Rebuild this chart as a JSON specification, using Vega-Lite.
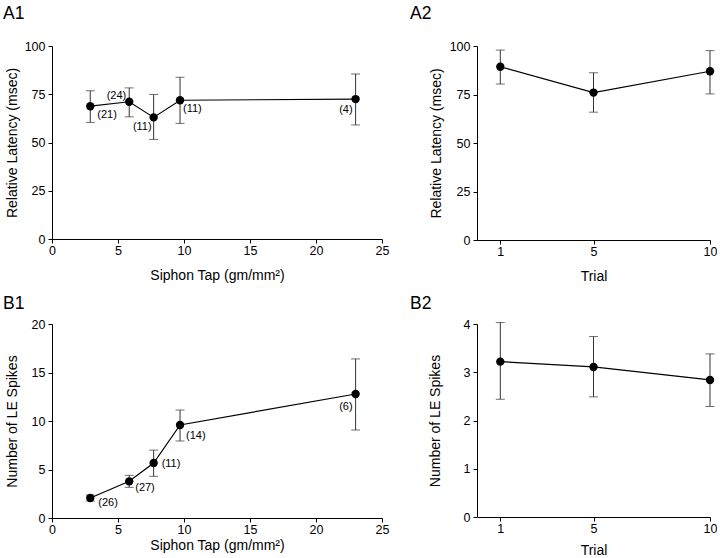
{
  "$schema": "https://vega.github.io/schema/vega-lite/v6.json",
  "padding": {"left": 3, "top": 4, "right": 0, "bottom": 0},
  "background": "white",
  "config": {
    "font": "Liberation Sans",
    "view": {"stroke": null},
    "axis": {
      "grid": false,
      "domainColor": "#000",
      "tickColor": "#000",
      "labelColor": "#000",
      "titleColor": "#000",
      "tickSize": 4,
      "labelFontSize": 12.5,
      "titleFontSize": 14,
      "titleFontWeight": "normal",
      "labelFont": "Liberation Sans",
      "titleFont": "Liberation Sans",
      "labelFlush": false,
      "labelOverlap": false
    },
    "axisX": {"labelPadding": 1},
    "axisY": {"labelPadding": 3},
    "title": {"anchor": "start", "frame": "group", "fontSize": 17.5, "fontWeight": "normal", "color": "#000", "font": "Liberation Sans", "baseline": "alphabetic"}
  },
  "datasets": {
    "a1": [
      {"tap": 2.9, "mean": 68.8, "lo": 60.4, "hi": 76.8, "label": "(21)"},
      {"tap": 5.85, "mean": 71.1, "lo": 63.3, "hi": 78.3, "label": "(24)"},
      {"tap": 7.7, "mean": 63.0, "lo": 51.6, "hi": 74.9, "label": "(11)"},
      {"tap": 9.7, "mean": 71.9, "lo": 59.9, "hi": 83.8, "label": "(11)"},
      {"tap": 23.0, "mean": 72.5, "lo": 59.1, "hi": 85.5, "label": "(4)"}
    ],
    "a2": [
      {"trial": 1, "mean": 89.3, "lo": 80.4, "hi": 97.9},
      {"trial": 5, "mean": 76.0, "lo": 65.9, "hi": 86.2},
      {"trial": 10, "mean": 87.0, "lo": 75.3, "hi": 97.6}
    ],
    "b1": [
      {"tap": 2.9, "mean": 2.06, "lo": 1.75, "hi": 2.37, "label": "(26)"},
      {"tap": 5.85, "mean": 3.78, "lo": 3.16, "hi": 4.4, "label": "(27)"},
      {"tap": 7.7, "mean": 5.67, "lo": 4.3, "hi": 7.0, "label": "(11)"},
      {"tap": 9.7, "mean": 9.59, "lo": 7.94, "hi": 11.13, "label": "(14)"},
      {"tap": 23.0, "mean": 12.78, "lo": 9.07, "hi": 16.4, "label": "(6)"}
    ],
    "b2": [
      {"trial": 1, "mean": 3.22, "lo": 2.44, "hi": 4.03},
      {"trial": 5, "mean": 3.11, "lo": 2.49, "hi": 3.74},
      {"trial": 10, "mean": 2.84, "lo": 2.29, "hi": 3.38}
    ]
  },
  "columns": 2,
  "spacing": {"row": 84, "column": 95},
  "bounds": "flush",
  "concat": [
    {
      "width": 330,
      "height": 193,
      "title": {"text": "A1", "dx": -49, "offset": 18},
      "data": {"name": "a1"},
      "encoding": {
        "x": {"field": "tap", "type": "quantitative", "scale": {"domain": [0, 25], "nice": false}, "axis": {"values": [0, 5, 10, 15, 20, 25], "title": "Siphon Tap (gm/mm²)", "titleY": 29}}
      },
      "layer": [
        {"mark": {"type": "rule", "color": "#333", "strokeWidth": 1}, "encoding": {"y": {"field": "lo", "type": "quantitative", "scale": {"domain": [0, 100], "nice": false}, "axis": {"values": [0, 25, 50, 75, 100], "title": "Relative Latency (msec)", "titleX": -33}}, "y2": {"field": "hi"}}},
        {"mark": {"type": "tick", "orient": "horizontal", "size": 9, "thickness": 1, "color": "#333"}, "encoding": {"y": {"field": "lo", "type": "quantitative"}}},
        {"mark": {"type": "tick", "orient": "horizontal", "size": 9, "thickness": 1, "color": "#333"}, "encoding": {"y": {"field": "hi", "type": "quantitative"}}},
        {"mark": {"type": "line", "color": "#000", "strokeWidth": 1.2}, "encoding": {"y": {"field": "mean", "type": "quantitative"}}},
        {"mark": {"type": "point", "filled": true, "size": 70, "color": "#000", "opacity": 1}, "encoding": {"y": {"field": "mean", "type": "quantitative"}}},
        {"transform": [{"filter": "datum.tap == 2.9"}], "mark": {"type": "text", "align": "left", "baseline": "middle", "dx": 7, "dy": 9, "fontSize": 11, "color": "#000"}, "encoding": {"y": {"field": "mean", "type": "quantitative"}, "text": {"field": "label"}}},
        {"transform": [{"filter": "datum.tap == 5.85"}], "mark": {"type": "text", "align": "right", "baseline": "middle", "dx": -3, "dy": -6, "fontSize": 11, "color": "#000"}, "encoding": {"y": {"field": "mean", "type": "quantitative"}, "text": {"field": "label"}}},
        {"transform": [{"filter": "datum.tap == 7.7"}], "mark": {"type": "text", "align": "right", "baseline": "middle", "dx": -2, "dy": 10, "fontSize": 11, "color": "#000"}, "encoding": {"y": {"field": "mean", "type": "quantitative"}, "text": {"field": "label"}}},
        {"transform": [{"filter": "datum.tap == 9.7"}], "mark": {"type": "text", "align": "left", "baseline": "middle", "dx": 3, "dy": 9, "fontSize": 11, "color": "#000"}, "encoding": {"y": {"field": "mean", "type": "quantitative"}, "text": {"field": "label"}}},
        {"transform": [{"filter": "datum.tap == 23"}], "mark": {"type": "text", "align": "right", "baseline": "middle", "dx": -3, "dy": 11, "fontSize": 11, "color": "#000"}, "encoding": {"y": {"field": "mean", "type": "quantitative"}, "text": {"field": "label"}}}
      ]
    },
    {
      "width": 233,
      "height": 194,
      "title": {"text": "A2", "dx": -67, "offset": 18},
      "data": {"name": "a2"},
      "encoding": {
        "x": {"field": "trial", "type": "quantitative", "scale": {"domain": [0, 10], "nice": false}, "axis": {"values": [1, 5, 10], "title": "Trial", "titleY": 29}}
      },
      "layer": [
        {"mark": {"type": "rule", "color": "#333", "strokeWidth": 1}, "encoding": {"y": {"field": "lo", "type": "quantitative", "scale": {"domain": [0, 100], "nice": false}, "axis": {"values": [0, 25, 50, 75, 100], "title": "Relative Latency (msec)", "titleX": -34}}, "y2": {"field": "hi"}}},
        {"mark": {"type": "tick", "orient": "horizontal", "size": 9, "thickness": 1, "color": "#333"}, "encoding": {"y": {"field": "lo", "type": "quantitative"}}},
        {"mark": {"type": "tick", "orient": "horizontal", "size": 9, "thickness": 1, "color": "#333"}, "encoding": {"y": {"field": "hi", "type": "quantitative"}}},
        {"mark": {"type": "line", "color": "#000", "strokeWidth": 1.2}, "encoding": {"y": {"field": "mean", "type": "quantitative"}}},
        {"mark": {"type": "point", "filled": true, "size": 70, "color": "#000", "opacity": 1}, "encoding": {"y": {"field": "mean", "type": "quantitative"}}}
      ]
    },
    {
      "width": 330,
      "height": 194,
      "title": {"text": "B1", "dx": -49, "offset": 5.5},
      "data": {"name": "b1"},
      "encoding": {
        "x": {"field": "tap", "type": "quantitative", "scale": {"domain": [0, 25], "nice": false}, "axis": {"values": [0, 5, 10, 15, 20, 25], "title": "Siphon Tap (gm/mm²)", "titleY": 20}}
      },
      "layer": [
        {"mark": {"type": "rule", "color": "#333", "strokeWidth": 1}, "encoding": {"y": {"field": "lo", "type": "quantitative", "scale": {"domain": [0, 20], "nice": false}, "axis": {"values": [0, 5, 10, 15, 20], "title": "Number of LE Spikes", "titleX": -33}}, "y2": {"field": "hi"}}},
        {"mark": {"type": "tick", "orient": "horizontal", "size": 9, "thickness": 1, "color": "#333"}, "encoding": {"y": {"field": "lo", "type": "quantitative"}}},
        {"mark": {"type": "tick", "orient": "horizontal", "size": 9, "thickness": 1, "color": "#333"}, "encoding": {"y": {"field": "hi", "type": "quantitative"}}},
        {"mark": {"type": "line", "color": "#000", "strokeWidth": 1.2}, "encoding": {"y": {"field": "mean", "type": "quantitative"}}},
        {"mark": {"type": "point", "filled": true, "size": 70, "color": "#000", "opacity": 1}, "encoding": {"y": {"field": "mean", "type": "quantitative"}}},
        {"transform": [{"filter": "datum.tap == 2.9"}], "mark": {"type": "text", "align": "left", "baseline": "middle", "dx": 8, "dy": 5, "fontSize": 11, "color": "#000"}, "encoding": {"y": {"field": "mean", "type": "quantitative"}, "text": {"field": "label"}}},
        {"transform": [{"filter": "datum.tap == 5.85"}], "mark": {"type": "text", "align": "left", "baseline": "middle", "dx": 6, "dy": 7, "fontSize": 11, "color": "#000"}, "encoding": {"y": {"field": "mean", "type": "quantitative"}, "text": {"field": "label"}}},
        {"transform": [{"filter": "datum.tap == 7.7"}], "mark": {"type": "text", "align": "left", "baseline": "middle", "dx": 8, "dy": 1, "fontSize": 11, "color": "#000"}, "encoding": {"y": {"field": "mean", "type": "quantitative"}, "text": {"field": "label"}}},
        {"transform": [{"filter": "datum.tap == 9.7"}], "mark": {"type": "text", "align": "left", "baseline": "middle", "dx": 6, "dy": 11, "fontSize": 11, "color": "#000"}, "encoding": {"y": {"field": "mean", "type": "quantitative"}, "text": {"field": "label"}}},
        {"transform": [{"filter": "datum.tap == 23"}], "mark": {"type": "text", "align": "right", "baseline": "middle", "dx": -3, "dy": 13, "fontSize": 11, "color": "#000"}, "encoding": {"y": {"field": "mean", "type": "quantitative"}, "text": {"field": "label"}}}
      ]
    },
    {
      "width": 233,
      "height": 193,
      "title": {"text": "B2", "dx": -67, "offset": 5.5},
      "data": {"name": "b2"},
      "encoding": {
        "x": {"field": "trial", "type": "quantitative", "scale": {"domain": [0, 10], "nice": false}, "axis": {"values": [1, 5, 10], "title": "Trial", "titleY": 26}}
      },
      "layer": [
        {"mark": {"type": "rule", "color": "#333", "strokeWidth": 1}, "encoding": {"y": {"field": "lo", "type": "quantitative", "scale": {"domain": [0, 4], "nice": false}, "axis": {"values": [0, 1, 2, 3, 4], "title": "Number of LE Spikes", "titleX": -35}}, "y2": {"field": "hi"}}},
        {"mark": {"type": "tick", "orient": "horizontal", "size": 9, "thickness": 1, "color": "#333"}, "encoding": {"y": {"field": "lo", "type": "quantitative"}}},
        {"mark": {"type": "tick", "orient": "horizontal", "size": 9, "thickness": 1, "color": "#333"}, "encoding": {"y": {"field": "hi", "type": "quantitative"}}},
        {"mark": {"type": "line", "color": "#000", "strokeWidth": 1.2}, "encoding": {"y": {"field": "mean", "type": "quantitative"}}},
        {"mark": {"type": "point", "filled": true, "size": 70, "color": "#000", "opacity": 1}, "encoding": {"y": {"field": "mean", "type": "quantitative"}}}
      ]
    }
  ]
}
